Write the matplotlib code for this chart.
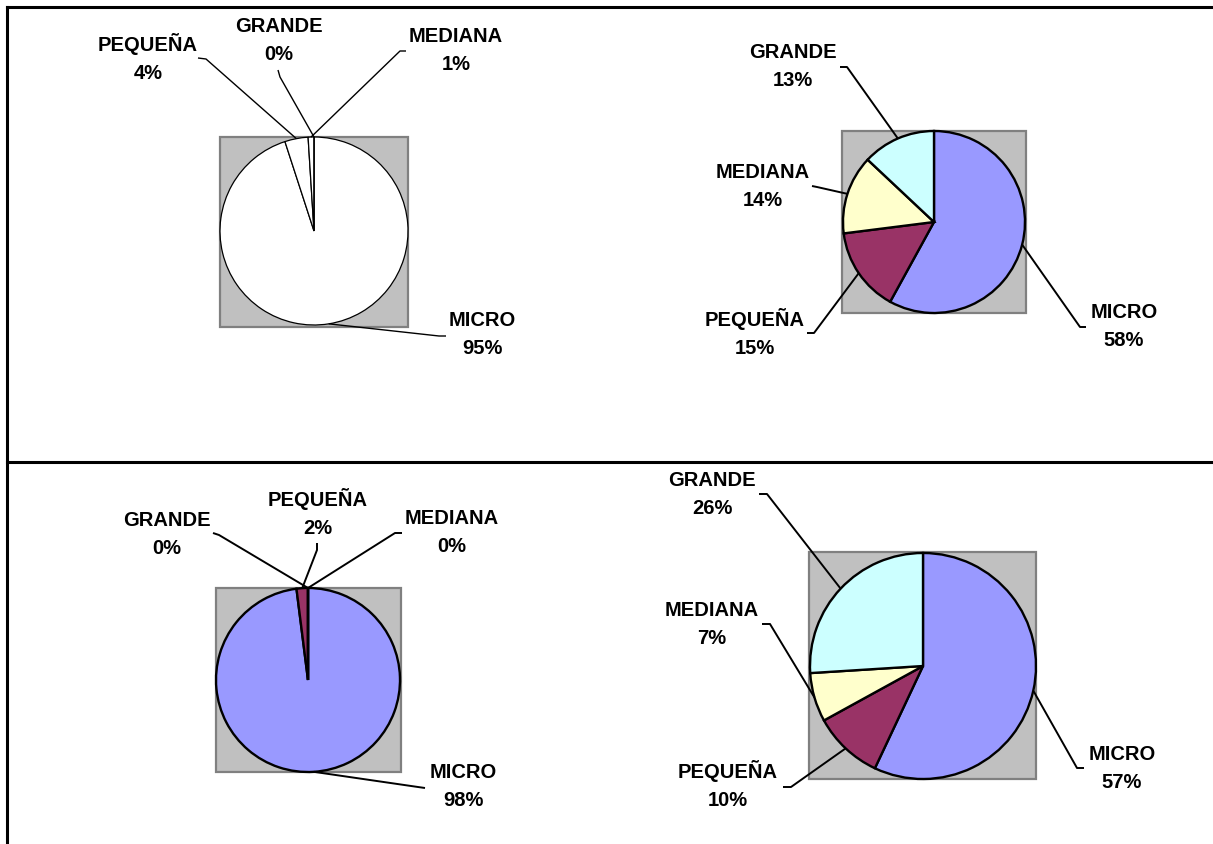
import matplotlib
matplotlib.use('Agg')
import matplotlib.pyplot as plt
from matplotlib.patches import Rectangle
import numpy as np

plt.rcParams['font.family'] = ['Liberation Sans', 'DejaVu Sans']

# datos: participación por tamaño de empresa
categorias = ['MICRO', 'PEQUEÑA', 'MEDIANA', 'GRANDE']
valores_a = [95, 4, 1, 0]
valores_b = [58, 15, 14, 13]
valores_c = [98, 2, 0, 0]
valores_d = [57, 10, 7, 26]

colores = ['#9999FF', '#993366', '#FFFFCC', '#CCFFFF']
blancos = ['white'] * 4

W, H = 1213, 844

fig = plt.figure(figsize=(W / 100, H / 100), dpi=100)
ax = fig.add_axes([0, 0, 1, 1])


def py(y):
    # coordenadas con origen arriba-izquierda
    return H - y


# posiciones de cada torta (en pixeles desde arriba-izquierda)
graficos = [
    dict(valores=valores_a, colores=blancos, centro=(314, 231), radio=94,
         caja=(220, 137, 408, 327), lw=0.9, lw_guia=1.0,
         etiquetas={'PEQUEÑA': ((148, 58), (206, 59), (198, 58)),
                    'GRANDE': ((279, 40), (280, 77), (278, 70)),
                    'MEDIANA': ((456, 50), (400, 51), (406, 51)),
                    'MICRO': ((482, 335), (439, 336), (446, 336))}),
    dict(valores=valores_b, colores=colores, centro=(934, 222), radio=91,
         caja=(842, 131, 1026, 313), lw=1.7, lw_guia=1.4,
         etiquetas={'GRANDE': ((793, 66), (847, 67), (840, 67)),
                    'MEDIANA': ((763, 186), (817, 187), (812, 186)),
                    'PEQUEÑA': ((755, 333), (814, 333), (807, 333)),
                    'MICRO': ((1124, 327), (1080, 327), (1086, 327))}),
    dict(valores=valores_c, colores=colores, centro=(308, 680), radio=92,
         caja=(216, 588, 401, 772), lw=1.7, lw_guia=1.4,
         etiquetas={'GRANDE': ((167, 534), (219, 535), (213, 533)),
                    'PEQUEÑA': ((318, 513), (317, 550), (317, 543)),
                    'MEDIANA': ((452, 533), (395, 533), (402, 533)),
                    'MICRO': ((463, 787), (418, 787), (425, 788))}),
    dict(valores=valores_d, colores=colores, centro=(923, 666), radio=113,
         caja=(809, 552, 1036, 779), lw=1.7, lw_guia=1.4,
         etiquetas={'GRANDE': ((712, 494), (767, 494), (759, 494)),
                    'MEDIANA': ((712, 624), (770, 624), (762, 624)),
                    'PEQUEÑA': ((728, 785), (791, 787), (783, 787)),
                    'MICRO': ((1122, 768), (1077, 768), (1084, 768))}),
]

for g in graficos:
    x0, y0, x1, y1 = g['caja']
    ax.add_patch(Rectangle((x0, py(y1)), x1 - x0, y1 - y0,
                           facecolor='#C0C0C0', edgecolor='#808080',
                           linewidth=1.6, zorder=1))
    cx, cy = g['centro']
    wedges, _ = ax.pie(g['valores'], colors=g['colores'], startangle=90,
                       counterclock=False, center=(cx, py(cy)),
                       radius=g['radio'],
                       wedgeprops=dict(edgecolor='black', linewidth=g['lw']))
    for w in wedges:
        w.set_zorder(2)

    for cat, v, w in zip(categorias, g['valores'], wedges):
        (tx, ty), (kx, ky), (ex, ey) = g['etiquetas'][cat]
        ang = np.deg2rad((w.theta1 + w.theta2) / 2)
        bx = w.center[0] + w.r * np.cos(ang)
        by = w.center[1] + w.r * np.sin(ang)
        ax.plot([bx, kx, ex], [by, py(ky), py(ey)], color='black',
                linewidth=g['lw_guia'], solid_capstyle='butt', zorder=3)
        ax.text(tx, py(ty), f'{cat}\n{v}%', ha='center', va='center',
                fontsize=14.5, fontweight='bold', linespacing=1.6, zorder=4)

# bordes de la tabla
ax.plot([7, 7], [0, py(7)], color='black', linewidth=2.2,
        solid_capstyle='projecting')
ax.plot([7, W], [py(7), py(7)], color='black', linewidth=2.2,
        solid_capstyle='projecting')
ax.plot([7, W], [py(462), py(462)], color='black', linewidth=2.2)

ax.set_xlim(0, W)
ax.set_ylim(0, H)
ax.set_aspect('auto')
ax.axis('off')

fig.savefig('out.png', dpi=100, facecolor='white')
